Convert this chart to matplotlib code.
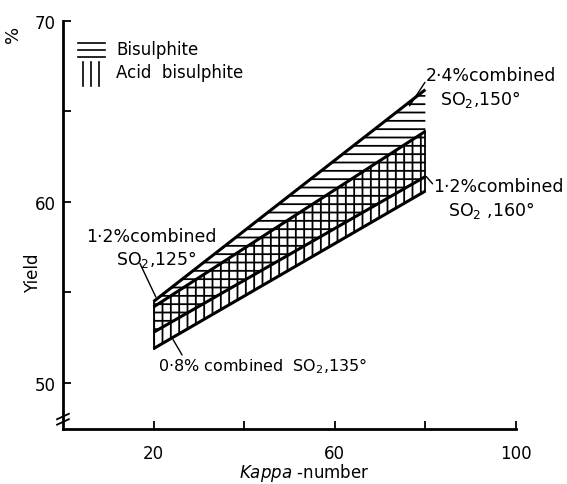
import matplotlib
matplotlib.use('Agg')
import matplotlib.pyplot as plt
import numpy as np

# kappa range covered by the bands
kappa = np.array([20, 80])
# bisulphite band
bis_upper = np.array([54.5, 66.2])   # 2.4% combined SO2, 150 deg
bis_lower = np.array([52.8, 61.4])   # 1.2% combined SO2, 160 deg
# acid bisulphite band
acid_upper = np.array([54.2, 63.9])  # 1.2% combined SO2, 125 deg
acid_lower = np.array([51.9, 60.6])  # 0.8% combined SO2, 135 deg

x_ticks = [20, 40, 60, 80, 100]
x_ticklabels = ['20', '', '60', '', '100']
y_ticks = [50, 55, 60, 65, 70]
y_ticklabels = ['50', '', '60', '', '70']

plt.rcParams['hatch.linewidth'] = 1.3
plt.rcParams['font.size'] = 12

fig = plt.figure(figsize=(5.67, 4.85), dpi=100)
ax = fig.add_axes([0.111, 0.113, 0.799, 0.842])

ax.fill_between(kappa, bis_lower, bis_upper, facecolor='none', edgecolor='black', hatch='--', linewidth=0)
ax.fill_between(kappa, acid_lower, acid_upper, facecolor='none', edgecolor='black', hatch='||', linewidth=0)

for y in (bis_upper, bis_lower, acid_upper, acid_lower):
    ax.plot(kappa, y, color='black', linewidth=2.2, solid_capstyle='butt')
ax.plot([kappa[0]] * 2, [acid_lower[0], bis_upper[0]], color='black', linewidth=1.3)
ax.plot([kappa[1]] * 2, [acid_lower[1], acid_upper[1]], color='black', linewidth=1.3)

ax.set_xlim(0, 100)
ax.set_ylim(47.45, 70)
ax.set_xticks(x_ticks)
ax.set_xticklabels(x_ticklabels)
ax.set_yticks(y_ticks)
ax.set_yticklabels(y_ticklabels)
ax.tick_params(direction='in', length=6, width=1.3, labelsize=12)
ax.tick_params(axis='x', pad=11)
ax.tick_params(axis='y', pad=5)
for s in ('top', 'right'):
    ax.spines[s].set_visible(False)
for s in ('left', 'bottom'):
    ax.spines[s].set_linewidth(2)

# axis break marks
for yb in (47.85, 48.15):
    ax.plot([-1.3, 1.3], [yb - 0.15, yb + 0.15], color='black', linewidth=1.3, clip_on=False)

fig.text(0.537, 0.025, r'$\mathit{Kappa}$ -number', fontsize=12, ha='center', va='center')
fig.text(0.058, 0.437, 'Yield', fontsize=12, rotation=90, ha='center', va='center')
fig.text(0.023, 0.93, '%', rotation=90, fontsize=13, ha='center', va='center')

# legend drawn by hand
for yl in (68.8, 68.4, 68.0):
    ax.plot([3.3, 9.3], [yl, yl], color='black', linewidth=1.2)
for xl in (4.4, 6.2, 8.0):
    ax.plot([xl, xl], [66.4, 67.7], color='black', linewidth=1.2)
ax.text(11.8, 68.45, 'Bisulphite', fontsize=12, va='center')
ax.text(11.8, 67.15, 'Acid  bisulphite', fontsize=12, va='center')

# line labels with leader strokes
lead = dict(arrowstyle='-', color='black', linewidth=1.0, shrinkA=0, shrinkB=0)
ax.text(80.1, 67.0, '2·4%combined', fontsize=12.5, va='center')
ax.text(83.2, 65.7, 'SO$_2$,150°', fontsize=12.5, va='center')
ax.annotate('', xy=(76.5, 65.3), xytext=(79.9, 66.6), arrowprops=lead)

ax.text(81.7, 60.9, '1·2%combined', fontsize=12.5, va='center')
ax.text(85.0, 59.6, 'SO$_2$ ,160°', fontsize=12.5, va='center')
ax.annotate('', xy=(80.2, 61.4), xytext=(81.6, 61.0), arrowprops=lead)

ax.text(5.1, 58.1, '1·2%combined', fontsize=12.5, va='center')
ax.text(11.7, 56.85, 'SO$_2$,125°', fontsize=12.5, va='center')
ax.annotate('', xy=(20.5, 54.75), xytext=(17.0, 56.6), arrowprops=lead)

ax.text(21.0, 51.0, '0·8% combined  SO$_2$,135°', fontsize=11.5, va='center')
ax.annotate('', xy=(24.3, 52.4), xytext=(26.3, 51.55), arrowprops=lead)

fig.savefig('out.png', dpi=100)
